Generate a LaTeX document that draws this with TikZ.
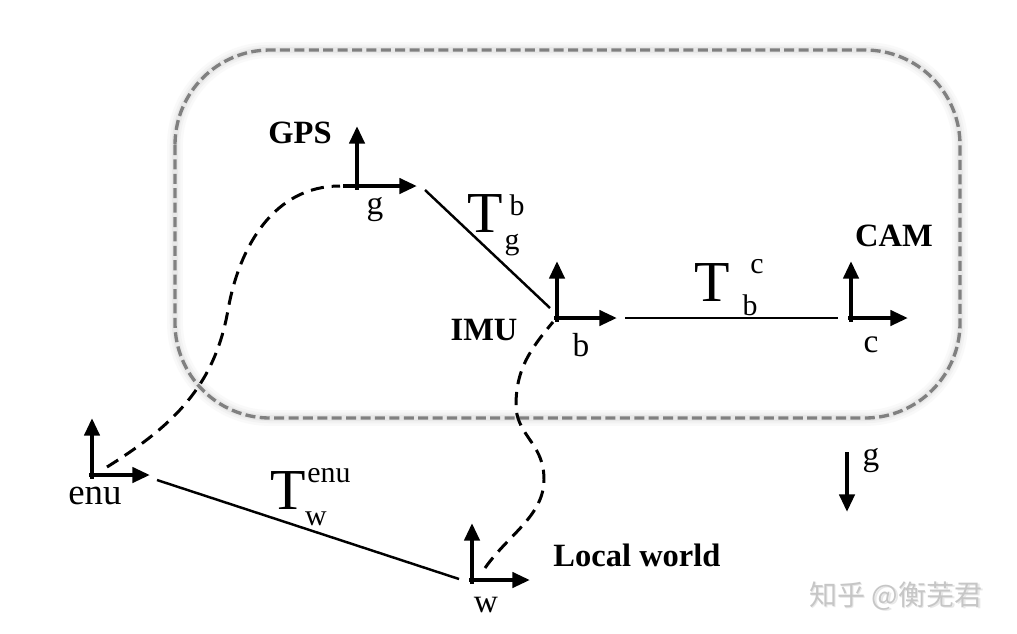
\documentclass[tikz,border=0pt]{standalone}
\usepackage{fontspec}
\setmainfont{Liberation Serif}
\newfontfamily\cjk{Noto Sans CJK SC}
\usetikzlibrary{arrows.meta}
\begin{document}
\begin{tikzpicture}[x=0.02cm,y=-0.02cm,
  axis/.style={line width=2.4pt,-{Triangle[length=10pt,width=8.5pt]}},
  link/.style={line width=1.4pt},
  dashlink/.style={line width=1.7pt,dash pattern=on 7.5pt off 4.5pt},
  lbl/.style={inner sep=0pt,font=\fontsize{19}{19}\selectfont},
  blbl/.style={inner sep=0pt,font=\fontsize{18.5}{18.5}\selectfont\bfseries},
  tsym/.style={inner sep=0pt,font=\fontsize{33}{33}\selectfont},
  tscr/.style={inner sep=0pt,font=\fontsize{17}{17}\selectfont},
  boxline/.style={rounded corners=1.9cm},
]
\useasboundingbox[fill=white] (0,0) rectangle (1017,633);

% group box with soft glow
\draw[boxline, line width=9pt, gray!5] (175,50) rectangle (960,418);
\draw[boxline, line width=6pt, gray!10] (175,50) rectangle (960,418);
\draw[boxline, line width=3.5pt, gray!18] (175,50) rectangle (960,418);
\draw[boxline, line width=1.9pt, gray, dash pattern=on 5.7pt off 2.5pt] (175,50) rectangle (960,418);

% frame origins and axis tips
\coordinate (gps) at (357,186);
\coordinate (gpsU) at (357,126);
\coordinate (gpsX0) at (343,186);
\coordinate (gpsR) at (417,186);

\coordinate (imu) at (557,318);
\coordinate (imuU) at (557,261);
\coordinate (imuX0) at (554,318);
\coordinate (imuR) at (617,318);

\coordinate (cam) at (851,318);
\coordinate (camU) at (851,261);
\coordinate (camX0) at (848,318);
\coordinate (camR) at (908,318);

\coordinate (enu) at (92,475);
\coordinate (enuU) at (92,418);
\coordinate (enuX0) at (89,475);
\coordinate (enuR) at (150,475);

\coordinate (w) at (472,580);
\coordinate (wU) at (472,523);
\coordinate (wX0) at (469,580);
\coordinate (wR) at (530,580);

\coordinate (gtop) at (847,452);
\coordinate (gbot) at (847,512);

% axes
\draw[axis] ([yshift=-2pt]gps) -- (gpsU);
\draw[axis] (gpsX0) -- (gpsR);
\draw[axis] ([yshift=-2pt]imu) -- (imuU);
\draw[axis] (imuX0) -- (imuR);
\draw[axis] ([yshift=-2pt]cam) -- (camU);
\draw[axis] (camX0) -- (camR);
\draw[axis] ([yshift=-2pt]enu) -- (enuU);
\draw[axis] (enuX0) -- (enuR);
\draw[axis] ([yshift=-2pt]w) -- (wU);
\draw[axis] (wX0) -- (wR);
\draw[axis] (gtop) -- (gbot);

% transform links
\coordinate (gb1) at (425,190);
\coordinate (gb2) at (550,308);
\coordinate (bc1) at (625,318);
\coordinate (bc2) at (838,318);
\coordinate (we1) at (157,480);
\coordinate (we2) at (459,579);
\draw[link] (gb1) -- (gb2);
\draw[link] (bc1) -- (bc2);
\draw[link] (we1) -- (we2);

% dashed curves
\coordinate (d1a) at (107,467);
\coordinate (d1m) at (228,310);
\coordinate (d1b) at (340,186);
\draw[dashlink] (d1a) to[out=32,in=-100] (d1m) to[out=80,in=180] (d1b);

\coordinate (d2a) at (485,568);
\coordinate (d2m) at (543,468);
\coordinate (d2n) at (516,405);
\coordinate (d2b) at (553,322);
\draw[dashlink] (d2a) to[out=55,in=-80] (d2m) to[out=100,in=-90] (d2n) to[out=90,in=-130] (d2b);

% frame labels
\node[blbl] (lgps) at (300,133) {GPS};
\node[lbl] (lg) at (375,210) {g};
\node[blbl] (limu) at (484,330) {IMU};
\node[lbl] (lb) at (581,345) {b};
\node[blbl] (lcam) at (894,236) {CAM};
\node[lbl] (lc) at (871,345) {c};
\node[lbl,font=\fontsize{21}{21}\selectfont] (lenu) at (95,496) {enu};
\node[lbl] (lw) at (486,605) {w};
\node[blbl] (lloc) at (637,555) {Local world};
\node[lbl] (lgrav) at (871,461) {g};

% transform labels
\node[tsym] (t1) at (485,214) {T};
\node[tscr] (t1sup) at (517,205) {b};
\node[tscr] (t1sub) at (512,245) {g};

\node[tsym] (t2) at (712,283) {T};
\node[tscr] (t2sup) at (757,267) {c};
\node[tscr] (t2sub) at (750,305) {b};

\node[tsym] (t3) at (288,491) {T};
\node[tscr] (t3sup) at (329,476) {enu};
\node[tscr] (t3sub) at (316,519) {w};

% watermark
\node[inner sep=0pt, text=gray!18, font=\cjk\fontsize{16}{16}\selectfont] (wm0) at (897.5,597.5) {知乎 @衡芜君};
\node[inner sep=0pt, text=gray!45, font=\cjk\fontsize{16}{16}\selectfont] (wm) at (896,596) {知乎 @衡芜君};
\end{tikzpicture}
\end{document}
